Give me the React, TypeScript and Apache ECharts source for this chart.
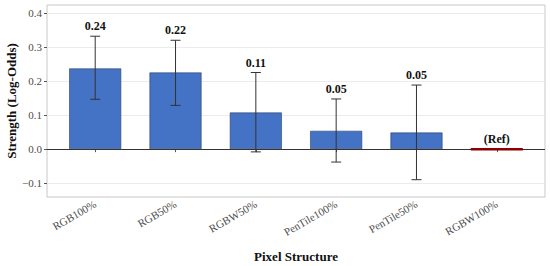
import React, { useEffect, useRef } from "react";
import * as echarts from "echarts";

const categories = ["RGB100%", "RGB50%", "RGBW50%", "PenTile100%", "PenTile50%", "RGBW100%"];
const estimates = [0.238, 0.226, 0.108, 0.054, 0.049, 0];
const ciLow: (number | null)[] = [0.147, 0.129, -0.008, -0.038, -0.09, null];
const ciHigh: (number | null)[] = [0.333, 0.321, 0.226, 0.148, 0.189, null];
const barLabels = ["0.24", "0.22", "0.11", "0.05", "0.05", "(Ref)"];
const yTicks = [-0.1, 0, 0.1, 0.2, 0.3, 0.4];
const refIndex = 5;

const FONT = "'Liberation Serif', 'DejaVu Serif', serif";
const BAR_W = 52;

export default function App() {
  const ref = useRef<HTMLDivElement>(null);
  useEffect(() => {
    if (!ref.current) return;
    const chart = echarts.init(ref.current, undefined, { renderer: "svg" });
    const xs = categories.map((_, i) => i + 1);
    const option: any = {
      animation: false,
      backgroundColor: "#ffffff",
      textStyle: { fontFamily: FONT },
      grid: {
        left: 47,
        right: 5,
        top: 5,
        bottom: 69,
        containLabel: false,
        outerBoundsMode: "none",
        show: true,
        borderColor: "#c8c8c8",
        borderWidth: 1,
        backgroundColor: "transparent",
      },
      xAxis: {
        type: "value",
        min: 0.4,
        max: 6.6,
        name: "Pixel Structure",
        nameLocation: "middle",
        nameGap: 53,
        nameTextStyle: { fontFamily: FONT, fontWeight: "bold", fontSize: 13, color: "#111" },
        axisLine: { show: false },
        splitLine: { show: false },
        axisTick: { show: true, length: 3, customValues: xs, lineStyle: { color: "#555" } },
        axisLabel: {
          customValues: xs,
          rotate: 30,
          margin: 6,
          fontFamily: FONT,
          fontSize: 11,
          color: "#4d4d4d",
          formatter: (v: number) => categories[Math.round(v) - 1] ?? "",
        },
      },
      yAxis: {
        type: "value",
        min: -0.141,
        max: 0.425,
        name: "Strength (Log-Odds)",
        nameLocation: "middle",
        nameGap: 29,
        nameMoveOverlap: false,
        nameTextStyle: { fontFamily: FONT, fontWeight: "bold", fontSize: 13, color: "#111" },
        axisLine: { show: false },
        splitLine: { show: false },
        axisTick: { show: true, length: 3, customValues: yTicks, lineStyle: { color: "#555" } },
        axisLabel: {
          customValues: yTicks,
          margin: 5,
          fontFamily: FONT,
          fontSize: 11,
          color: "#4d4d4d",
          formatter: (v: number) => (v < 0 ? "\u2212" + Math.abs(v).toFixed(1) : v.toFixed(1)),
        },
      },
      series: [
        {
          type: "line",
          data: [],
          silent: true,
          z: 0,
          markLine: {
            silent: true,
            symbol: "none",
            z: 0,
            label: { show: false },
            lineStyle: { color: "#ebebeb", width: 1, type: "solid" },
            data: yTicks.filter((t) => t !== 0).map((t) => ({ yAxis: t })),
          },
        },
        {
          type: "bar",
          barWidth: BAR_W,
          z: 2,
          data: estimates.map((v, i) => [i + 1, v]),
          itemStyle: { color: "#4472c4", borderColor: "#2a3f66", borderWidth: 0.6 },
        },
        {
          type: "line",
          data: [],
          silent: true,
          z: 3,
          markLine: {
            silent: true,
            symbol: "none",
            z: 3,
            label: { show: false },
            lineStyle: { color: "#333333", width: 1, type: "solid" },
            data: [{ yAxis: 0 }],
          },
        },
        {
          type: "custom",
          z: 4,
          silent: true,
          data: categories.map((_, i) => [i + 1, ciLow[i], ciHigh[i], estimates[i]]),
          encode: { x: 0, y: [1, 2] },
          renderItem: (params: any, api: any) => {
            const i = params.dataIndex;
            const x = api.value(0);
            const lo = ciLow[i];
            const hi = ciHigh[i];
            const children: any[] = [];
            let labelY: number;
            const pEst = api.coord([x, api.value(3)]);
            if (lo !== null && hi !== null) {
              const pHi = api.coord([x, hi]);
              const pLo = api.coord([x, lo]);
              const cap = 5;
              const ls = { stroke: "#333333", lineWidth: 1 };
              children.push(
                { type: "line", shape: { x1: pHi[0], y1: pHi[1], x2: pLo[0], y2: pLo[1] }, style: ls },
                { type: "line", shape: { x1: pHi[0] - cap, y1: pHi[1], x2: pHi[0] + cap, y2: pHi[1] }, style: ls },
                { type: "line", shape: { x1: pLo[0] - cap, y1: pLo[1], x2: pLo[0] + cap, y2: pLo[1] }, style: ls }
              );
              labelY = pHi[1] - 4;
            } else {
              labelY = pEst[1] - 4;
            }
            if (i === refIndex) {
              children.push({
                type: "line",
                shape: { x1: pEst[0] - BAR_W / 2, y1: pEst[1], x2: pEst[0] + BAR_W / 2, y2: pEst[1] },
                style: { stroke: "#8b0000", lineWidth: 2.5 },
              });
            }
            children.push({
              type: "text",
              x: pEst[0],
              y: labelY,
              style: {
                text: barLabels[i],
                fill: "#111",
                font: `bold 12px ${FONT}`,
                align: "center",
                verticalAlign: "bottom",
              },
            });
            return { type: "group", children };
          },
        },
      ],
    };
    chart.setOption(option);
    return () => chart.dispose();
  }, []);
  return (
    <div
      ref={ref}
      style={{ position: "absolute", left: 0, top: 0, width: 550, height: 266 }}
    />
  );
}
